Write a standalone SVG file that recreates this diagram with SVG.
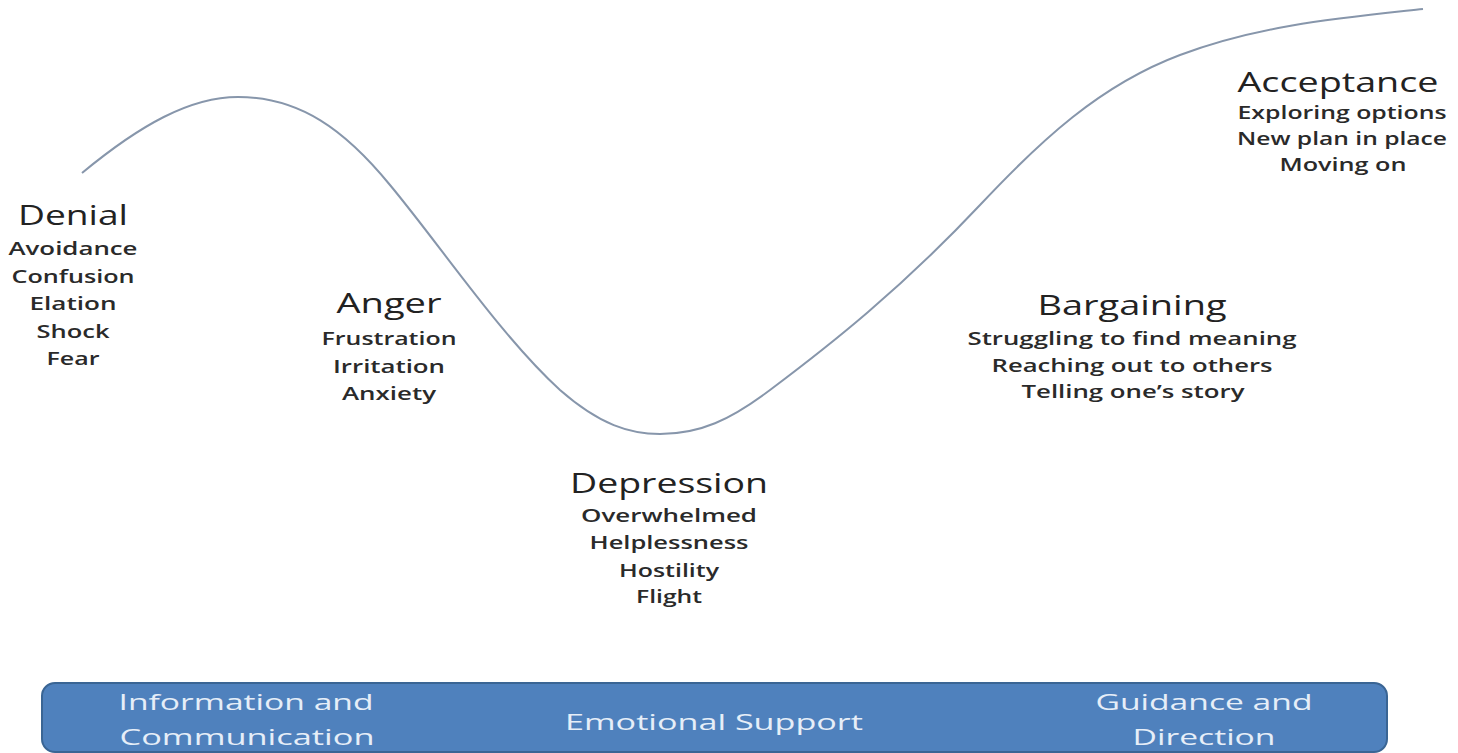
<svg xmlns="http://www.w3.org/2000/svg" width="1458" height="753" viewBox="0 0 1458 753">
<style>
text{font-family:"Open Sans","Liberation Sans",sans-serif;text-anchor:middle}
.t{font-size:28px;fill:#222}
.s{font-size:18px;font-weight:600;fill:#2a2a2a}
.b{font-size:22px;fill:#e6eef8}
.curve{fill:none;stroke:#8796ab;stroke-width:2}
</style>
<rect width="1458" height="753" fill="#fff"/>
<g id="connectors">
<path class="curve" d="M82,173 C140,125 190,97 238,97 C300,97 345,130 390,185 C440,245 500,335 560,390 C600,425 630,434 660,434 C700,434 730,420 770,390 C830,345 900,290 980,205 C1040,141 1100,85 1180,55 C1260,25 1340,18 1423,9"/>
</g>
<g id="denial">
<text class="t" x="73" y="225" textLength="110" lengthAdjust="spacingAndGlyphs">Denial</text>
<text class="s" x="73" y="255" textLength="129" lengthAdjust="spacingAndGlyphs">Avoidance</text>
<text class="s" x="73" y="283" textLength="123" lengthAdjust="spacingAndGlyphs">Confusion</text>
<text class="s" x="73" y="310" textLength="87" lengthAdjust="spacingAndGlyphs">Elation</text>
<text class="s" x="73" y="338" textLength="73" lengthAdjust="spacingAndGlyphs">Shock</text>
<text class="s" x="73" y="365" textLength="53" lengthAdjust="spacingAndGlyphs">Fear</text>
</g>
<g id="anger">
<text class="t" x="389" y="313" textLength="105" lengthAdjust="spacingAndGlyphs">Anger</text>
<text class="s" x="389" y="345" textLength="135" lengthAdjust="spacingAndGlyphs">Frustration</text>
<text class="s" x="389" y="373" textLength="112" lengthAdjust="spacingAndGlyphs">Irritation</text>
<text class="s" x="389" y="400" textLength="94" lengthAdjust="spacingAndGlyphs">Anxiety</text>
</g>
<g id="depression">
<text class="t" x="669" y="493" textLength="198" lengthAdjust="spacingAndGlyphs">Depression</text>
<text class="s" x="669" y="522" textLength="176" lengthAdjust="spacingAndGlyphs">Overwhelmed</text>
<text class="s" x="669" y="549" textLength="159" lengthAdjust="spacingAndGlyphs">Helplessness</text>
<text class="s" x="669" y="577" textLength="100" lengthAdjust="spacingAndGlyphs">Hostility</text>
<text class="s" x="669" y="603" textLength="66" lengthAdjust="spacingAndGlyphs">Flight</text>
</g>
<g id="bargaining">
<text class="t" x="1132" y="315" textLength="189" lengthAdjust="spacingAndGlyphs">Bargaining</text>
<text class="s" x="1132" y="345" textLength="329" lengthAdjust="spacingAndGlyphs">Struggling to find meaning</text>
<text class="s" x="1132" y="372" textLength="281" lengthAdjust="spacingAndGlyphs">Reaching out to others</text>
<text class="s" x="1133" y="398" textLength="223" lengthAdjust="spacingAndGlyphs">Telling one’s story</text>
</g>
<g id="acceptance">
<text class="t" x="1338" y="92" textLength="201" lengthAdjust="spacingAndGlyphs">Acceptance</text>
<text class="s" x="1342" y="119" textLength="209" lengthAdjust="spacingAndGlyphs">Exploring options</text>
<text class="s" x="1342" y="145" textLength="210" lengthAdjust="spacingAndGlyphs">New plan in place</text>
<text class="s" x="1343" y="171" textLength="127" lengthAdjust="spacingAndGlyphs">Moving on</text>
</g>
<g id="support-bar">
<rect x="42" y="683" width="1345" height="69" rx="13" fill="#4f81bd" stroke="#3a6594" stroke-width="2"/>
<text class="b" x="246" y="710" textLength="255" lengthAdjust="spacingAndGlyphs">Information and</text>
<text class="b" x="247" y="745" textLength="255" lengthAdjust="spacingAndGlyphs">Communication</text>
<text class="b" x="714" y="730" textLength="298" lengthAdjust="spacingAndGlyphs">Emotional Support</text>
<text class="b" x="1204" y="710" textLength="217" lengthAdjust="spacingAndGlyphs">Guidance and</text>
<text class="b" x="1204" y="745" textLength="143" lengthAdjust="spacingAndGlyphs">Direction</text>
</g>
</svg>
